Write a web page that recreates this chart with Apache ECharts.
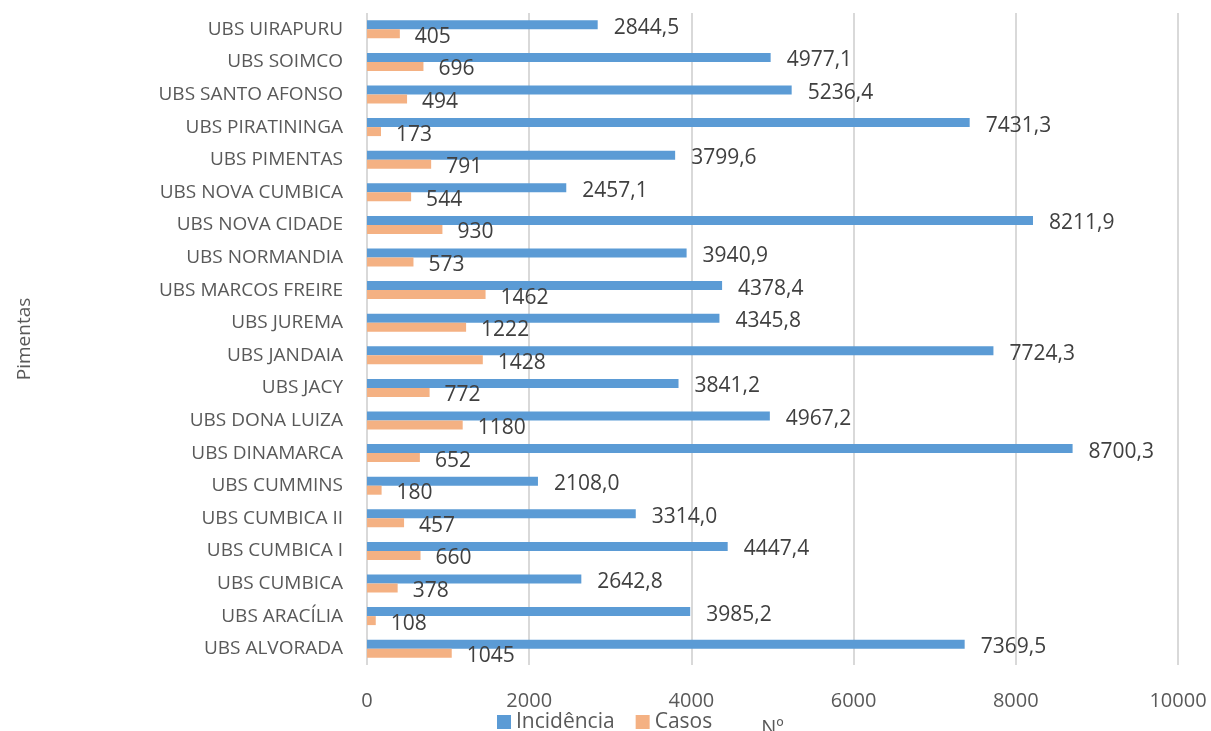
<!DOCTYPE html>
<html>
<head>
    <meta charset="utf-8">
    <title>ECharts</title>
    <script src="https://cdn.jsdelivr.net/npm/echarts@6/dist/echarts.min.js"></script>
    <style>
        html, body { margin: 0; padding: 0; background: #fff; }
    </style>
</head>
<body>
    <div id="main" style="width: 1211px;height:731px;"></div>
    <script type="text/javascript">
        // unidades, de cima para baixo
        var categorias = ['UBS UIRAPURU', 'UBS SOIMCO', 'UBS SANTO AFONSO', 'UBS PIRATININGA', 'UBS PIMENTAS',
            'UBS NOVA CUMBICA', 'UBS NOVA CIDADE', 'UBS NORMANDIA', 'UBS MARCOS FREIRE', 'UBS JUREMA',
            'UBS JANDAIA', 'UBS JACY', 'UBS DONA LUIZA', 'UBS DINAMARCA', 'UBS CUMMINS',
            'UBS CUMBICA II', 'UBS CUMBICA I', 'UBS CUMBICA', 'UBS ARACÍLIA', 'UBS ALVORADA'];
        var incidencia = [2844.5, 4977.1, 5236.4, 7431.3, 3799.6, 2457.1, 8211.9, 3940.9, 4378.4, 4345.8,
            7724.3, 3841.2, 4967.2, 8700.3, 2108.0, 3314.0, 4447.4, 2642.8, 3985.2, 7369.5];
        var casos = [405, 696, 494, 173, 791, 544, 930, 573, 1462, 1222,
            1428, 772, 1180, 652, 180, 457, 660, 378, 108, 1045];
        var xTicks = [0, 2000, 4000, 6000, 8000, 10000];

        var fonte = '"Open Sans", sans-serif';
        var myChart = echarts.init(document.getElementById('main'));

        var option = {
            textStyle: { fontFamily: fonte },
            legend: {
                data: ['Incidência', 'Casos'],
                left: 497,
                top: 709,
                padding: 0,
                itemWidth: 14,
                itemHeight: 14,
                itemGap: 21,
                icon: 'rect',
                textStyle: { fontSize: 21, lineHeight: 26, color: '#595959', fontFamily: fonte }
            },
            grid: { left: 367, right: 33, top: 13, bottom: 66, outerBoundsMode: 'none' },
            xAxis: {
                type: 'value',
                min: xTicks[0],
                max: xTicks[xTicks.length - 1],
                interval: 2000,
                name: 'Nº',
                nameLocation: 'middle',
                nameGap: 53,
                nameTextStyle: { fontSize: 20, color: '#595959' },
                axisLine: { show: false },
                axisTick: { show: false },
                axisLabel: {
                    fontSize: 20, color: '#595959', margin: 26,
                    formatter: function (v) { return String(v); }
                },
                splitLine: { lineStyle: { color: '#d9d9d9', width: 2 } }
            },
            yAxis: {
                type: 'category',
                data: categorias,
                inverse: true,
                name: 'Pimentas',
                nameLocation: 'middle',
                nameGap: 333,
                nameTextStyle: { fontSize: 19, color: '#595959' },
                axisLine: { show: false },
                axisTick: { show: false },
                axisLabel: { fontSize: 19, color: '#595959', margin: 24 }
            },
            series: [{
                name: 'Incidência',
                type: 'bar',
                data: incidencia,
                barWidth: 9,
                barGap: '0%',
                itemStyle: { color: '#5b9bd5' },
                label: {
                    show: true,
                    position: 'right',
                    distance: 16,
                    offset: [0, 3],
                    fontSize: 21,
                    color: '#404040',
                    formatter: function (p) { return p.value.toFixed(1).replace('.', ','); }
                }
            }, {
                name: 'Casos',
                type: 'bar',
                data: casos,
                barWidth: 9,
                itemStyle: { color: '#f4b183' },
                label: {
                    show: true,
                    position: 'right',
                    distance: 15,
                    offset: [0, 3],
                    fontSize: 21,
                    color: '#404040'
                }
            }]
        };

        myChart.setOption(option);
    </script>
</body>
</html>
